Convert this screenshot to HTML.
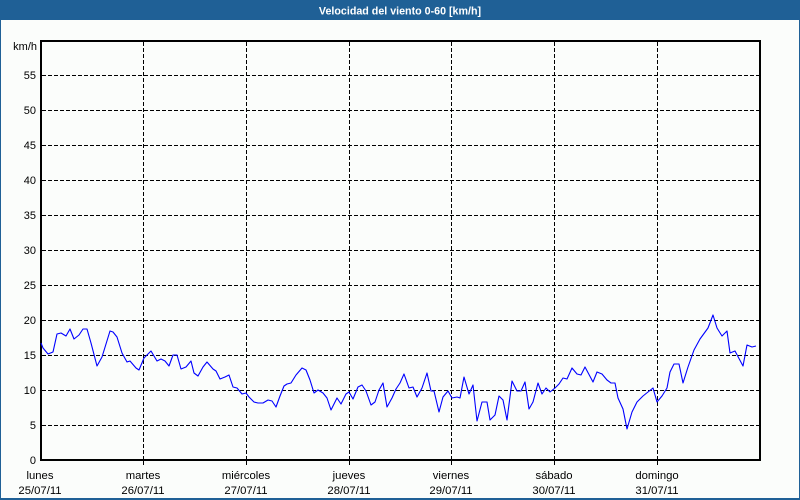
<!DOCTYPE html>
<html><head><meta charset="utf-8"><style>
html,body{margin:0;padding:0;}
body{width:800px;height:500px;overflow:hidden;background:#fbfdfb;}
svg{display:block;}
text{font-family:"Liberation Sans",sans-serif;}
</style></head><body>
<svg width="800" height="500" viewBox="0 0 800 500" xmlns="http://www.w3.org/2000/svg">
<rect x="0" y="0" width="800" height="500" fill="#fbfdfb"/>
<rect x="0" y="0" width="800" height="20" fill="#1f6096"/>
<rect x="0" y="0" width="1" height="500" fill="#1f6096"/>
<rect x="799" y="0" width="1" height="500" fill="#1f6096"/>
<rect x="0" y="498" width="800" height="2" fill="#1f6096"/>
<text x="400" y="14.5" text-anchor="middle" fill="#ffffff" font-size="10.7" font-weight="bold">Velocidad del viento 0-60 [km/h]</text>

<g stroke="#000" stroke-width="1" stroke-dasharray="4,2" fill="none">
<line x1="42" y1="75.5" x2="760" y2="75.5"/>
<line x1="42" y1="110.5" x2="760" y2="110.5"/>
<line x1="42" y1="145.5" x2="760" y2="145.5"/>
<line x1="42" y1="180.5" x2="760" y2="180.5"/>
<line x1="42" y1="215.5" x2="760" y2="215.5"/>
<line x1="42" y1="250.5" x2="760" y2="250.5"/>
<line x1="42" y1="285.5" x2="760" y2="285.5"/>
<line x1="42" y1="320.5" x2="760" y2="320.5"/>
<line x1="42" y1="355.5" x2="760" y2="355.5"/>
<line x1="42" y1="390.5" x2="760" y2="390.5"/>
<line x1="42" y1="425.5" x2="760" y2="425.5"/>
<line x1="143.5" y1="42" x2="143.5" y2="460"/>
<line x1="246.5" y1="42" x2="246.5" y2="460"/>
<line x1="349.5" y1="42" x2="349.5" y2="460"/>
<line x1="451.5" y1="42" x2="451.5" y2="460"/>
<line x1="554.5" y1="42" x2="554.5" y2="460"/>
<line x1="657.5" y1="42" x2="657.5" y2="460"/>
</g>
<g stroke="#000" stroke-width="1">
<line x1="143.5" y1="460" x2="143.5" y2="465"/>
<line x1="246.5" y1="460" x2="246.5" y2="465"/>
<line x1="349.5" y1="460" x2="349.5" y2="465"/>
<line x1="451.5" y1="460" x2="451.5" y2="465"/>
<line x1="554.5" y1="460" x2="554.5" y2="465"/>
<line x1="657.5" y1="460" x2="657.5" y2="465"/>
</g>
<rect x="41" y="41" width="719" height="419" fill="none" stroke="#000" stroke-width="2"/>

<polyline fill="none" stroke="#0000ff" stroke-width="1.1" stroke-linejoin="round" points="41,343 43,348 48,354 53,352 57,334 61,333 66,336 70,329 74,339 79,335 83,329 87,329 91,343 97,366 102,357 110,331 113,332 117,337 122,353 127,362 130,361 136,368 139,370 144,358 151,351 157,361 161,359 165,361 169,366 173,355 177,355 181,369 186,367 191,361 194,373 198,376 203,367 207,362 213,369 216,371 220,379 225,377 229,375 233,387 237,388 242,394 246,393 249,397 254,402 258,403 263,403 268,400 272,401 276,407 280,396 284,386 287,384 291,383 296,375 302,368 306,370 310,380 314,393 318,390 323,393 327,398 331,410 337,398 341,404 346,394 349,392 353,399 358,387 362,385 366,391 371,405 375,402 379,390 383,383 387,407 392,398 396,389 400,383 404,374 409,388 413,387 417,397 422,388 427,373 431,391 434,391 439,412 443,397 448,391 452,398 457,397 460,398 464,377 469,394 473,385 477,421 482,402 487,402 490,420 495,415 499,396 503,400 507,420 512,381 517,391 521,391 525,382 529,409 533,402 538,383 542,394 546,388 550,392 555,388 559,384 563,378 567,379 572,368 577,374 581,375 585,367 593,382 597,372 602,374 607,380 611,383 615,383 618,398 623,409 627,429 632,412 637,402 643,396 648,392 653,388 657,402 662,396 667,388 670,372 674,364 679,364 683,383 688,367 694,350 700,339 708,328 713,315 717,328 722,336 727,331 730,353 735,351 743,366 747,345 752,347 756,346"/>

<g font-size="11" fill="#000" text-anchor="end">
<text x="37" y="50">km/h</text>
<text x="36" y="79">55</text>
<text x="36" y="114">50</text>
<text x="36" y="149">45</text>
<text x="36" y="184">40</text>
<text x="36" y="219">35</text>
<text x="36" y="254">30</text>
<text x="36" y="289">25</text>
<text x="36" y="324">20</text>
<text x="36" y="359">15</text>
<text x="36" y="394">10</text>
<text x="36" y="429">5</text>
<text x="36" y="464">0</text>
</g>
<g font-size="11.3" fill="#000" text-anchor="middle">
<text x="40" y="479">lunes</text>
<text x="40" y="494">25/07/11</text>
<text x="143" y="479">martes</text>
<text x="143" y="494">26/07/11</text>
<text x="246" y="479">miércoles</text>
<text x="246" y="494">27/07/11</text>
<text x="349" y="479">jueves</text>
<text x="349" y="494">28/07/11</text>
<text x="451" y="479">viernes</text>
<text x="451" y="494">29/07/11</text>
<text x="554" y="479">sábado</text>
<text x="554" y="494">30/07/11</text>
<text x="657" y="479">domingo</text>
<text x="657" y="494">31/07/11</text>
</g>
</svg>
</body></html>
